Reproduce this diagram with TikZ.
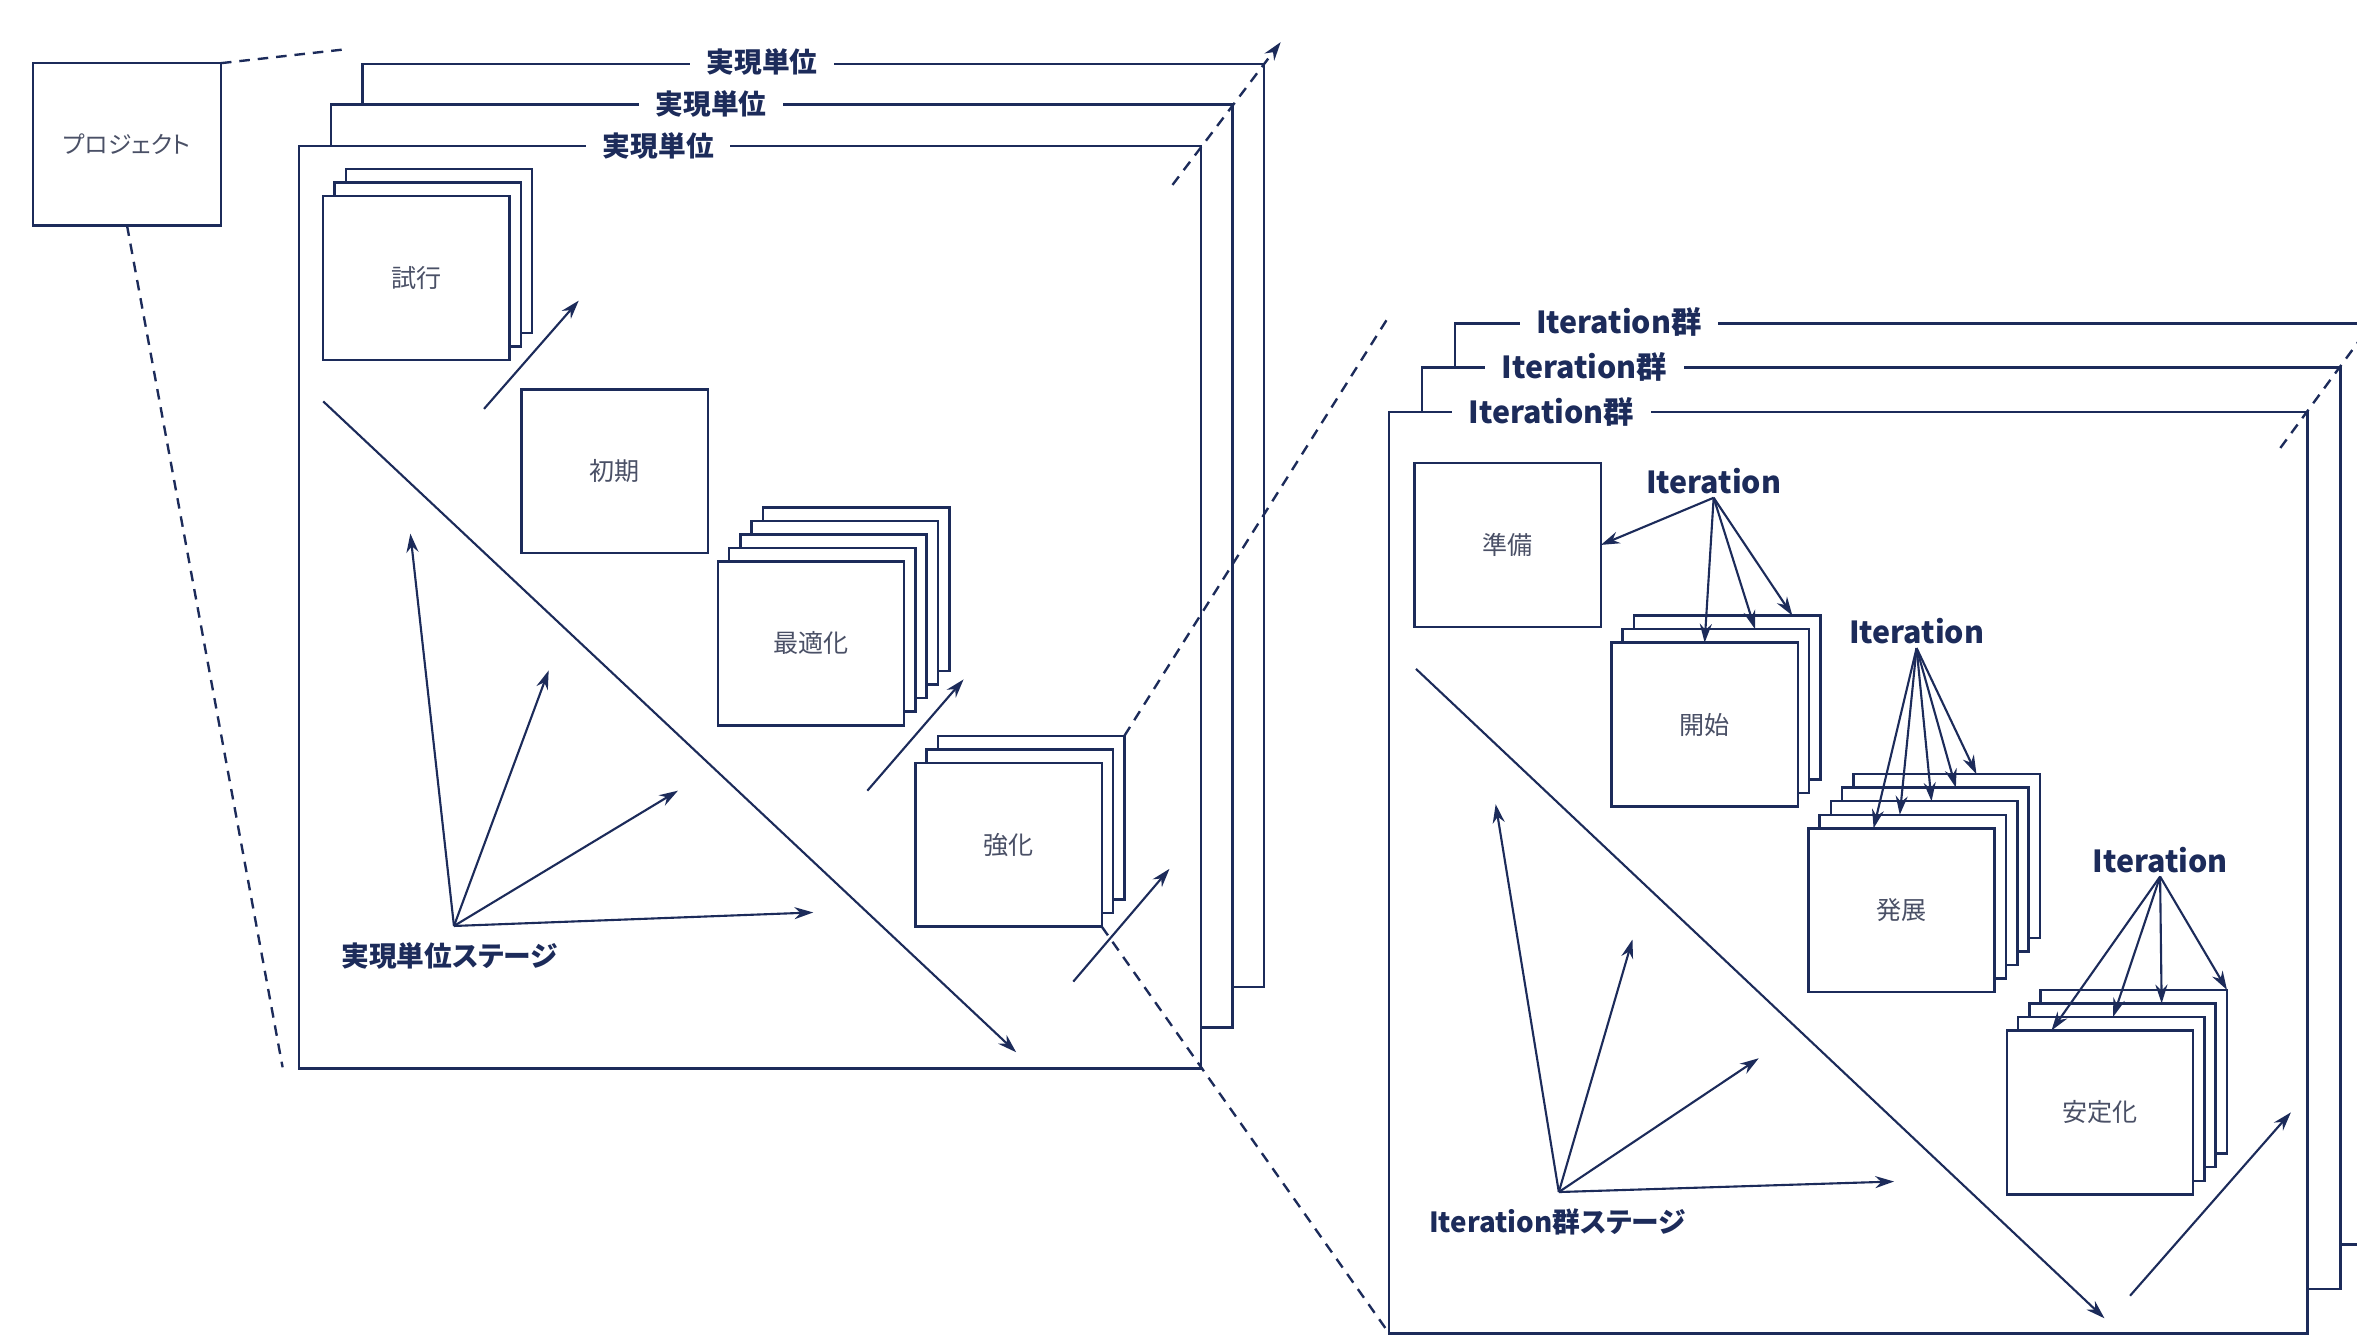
\documentclass[tikz,border=0pt]{standalone}
\usepackage{fontspec}
\setmainfont{Noto Sans CJK JP}[RawFeature=+palt]
\usepackage{xcolor}
\usetikzlibrary{positioning,arrows.meta,calc}

\definecolor{navy}{HTML}{1C2B5A}
\definecolor{boxtext}{HTML}{4A5066}

\begin{document}
\begin{tikzpicture}[
    x=0.02cm, y=-0.02cm,
    navy,
    line width=0.95pt,
    unitframe/.style={rectangle, draw, fill=white, inner sep=0pt, outer sep=0pt, minimum width=12cm, minimum height=12.28cm},
    groupframe/.style={rectangle, draw, fill=white, inner sep=0pt, outer sep=0pt, minimum width=12.22cm, minimum height=12.26cm},
    framelabel/.style={fill=white, inner xsep=0.22cm, inner ysep=1pt, font=\bfseries\fontsize{10.5}{12}\selectfont},
    itfont/.style={font=\bfseries\fontsize{11.5}{13}\selectfont},
    box/.style={rectangle, draw, fill=white, inner sep=0pt, outer sep=0pt, minimum width=2.48cm, minimum height=2.18cm, text=boxtext, font=\fontsize{9.5}{11}\selectfont},
    itlabel/.style={itfont, inner sep=1pt},
    stage/.style={font=\bfseries\fontsize{10.5}{12}\selectfont, inner sep=1pt},
    flow/.style={->, line width=0.8pt},
    zoomline/.style={dash pattern=on 4pt off 3pt, line width=0.9pt},
    >={Stealth[length=2.5mm, width=1.6mm]}
]
\useasboundingbox (0,0) rectangle (1568,889);

% プロジェクト
\node[box, minimum width=2.5cm, minimum height=2.16cm, font=\fontsize{9}{11}\selectfont] (project) at (84.5,96) {プロジェクト};

% Iteration群の枠
\node[groupframe] (groupC) at (1273.5,521.5) {};
\node[framelabel, itfont] (groupCtitle) at (1077,214) {Iteration群};
\node[groupframe] (groupB) at (1251.5,551) {};
\node[framelabel, itfont] (groupBtitle) at (1054,244) {Iteration群};
\node[groupframe] (groupA) at (1229.5,580.5) {};
\node[framelabel, itfont] (groupAtitle) at (1032,274) {Iteration群};

% 実現単位の枠
\node[unitframe] (unitC) at (541,349.5) {};
\node[framelabel] (unitCtitle) at (507,41) {実現単位};
\node[unitframe] (unitB) at (520,376.5) {};
\node[framelabel] (unitBtitle) at (473,69) {実現単位};
\node[unitframe] (unitA) at (499,404) {};
\node[framelabel] (unitAtitle) at (438,97) {実現単位};

% 実現単位の段階
\foreach \k in {2,1}
  \node[box] (shiko\k) at ({277+7.5*\k},{185-9*\k}) {};
\node[box] (shiko0) at (277,185) {試行};
\node[box] (shoki) at (409,313.5) {初期};
\foreach \k in {4,3,2,1}
  \node[box] (saiteki\k) at ({539.5+7.5*\k},{428-9*\k}) {};
\node[box] (saiteki0) at (539.5,428) {最適化};
\foreach \k in {2,1}
  \node[box] (kyoka\k) at ({671+7.5*\k},{562-9*\k}) {};
\node[box] (kyoka0) at (671,562) {強化};

% Iteration群の段階
\node[box] (junbi) at (1003,362.5) {準備};
\foreach \k in {2,1}
  \node[box] (kaishi\k) at ({1134+7.5*\k},{482-9*\k}) {};
\node[box] (kaishi0) at (1134,482) {開始};
\foreach \k in {4,3,2,1}
  \node[box] (hatten\k) at ({1265+7.5*\k},{605.5-9*\k}) {};
\node[box] (hatten0) at (1265,605.5) {発展};
\foreach \k in {3,2,1}
  \node[box] (antei\k) at ({1397+7.5*\k},{740-9*\k}) {};
\node[box] (antei0) at (1397,740) {安定化};

% 段階の進み
\coordinate (stepA1) at (322,272);  \coordinate (stepA2) at (385,200);
\coordinate (stepB1) at (577,526);  \coordinate (stepB2) at (641,452);
\coordinate (stepC1) at (714,653);  \coordinate (stepC2) at (778,578);
\coordinate (stepD1) at (1417,862); \coordinate (stepD2) at (1524,740);
\draw[flow] (stepA1) -- (stepA2);
\draw[flow] (stepB1) -- (stepB2);
\draw[flow] (stepC1) -- (stepC2);
\draw[flow] (stepD1) -- (stepD2);

% 対角線
\coordinate (unitdiag1) at (215,267);  \coordinate (unitdiag2) at (676,700);
\coordinate (groupdiag1) at (942,445); \coordinate (groupdiag2) at (1400,877);
\draw[flow] (unitdiag1) -- (unitdiag2);
\draw[flow] (groupdiag1) -- (groupdiag2);

% ステージ
\node[stage] (unitstagetext) at (299,636) {実現単位ステージ};
\coordinate (unitstage) at (302,616);
\coordinate (unitfan1) at (273,355);
\coordinate (unitfan2) at (365,446);
\coordinate (unitfan3) at (451,526);
\coordinate (unitfan4) at (541,607);
\foreach \i in {1,...,4}
  \draw[flow] (unitstage) -- (unitfan\i);

\node[stage] (groupstagetext) at (1036,813) {Iteration群ステージ};
\coordinate (groupstage) at (1037,793);
\coordinate (groupfan1) at (995,535);
\coordinate (groupfan2) at (1086,625);
\coordinate (groupfan3) at (1170,704);
\coordinate (groupfan4) at (1260,786);
\foreach \i in {1,...,4}
  \draw[flow] (groupstage) -- (groupfan\i);

% Iteration
\node[itlabel] (iter1) at (1140,320) {Iteration};
\node[itlabel] (iter2) at (1275,420) {Iteration};
\node[itlabel] (iter3) at (1437,572) {Iteration};
\draw[flow] (iter1.south) -- (junbi.east);
\foreach \k/\f in {0/0.5,1/0.71,2/0.85}
  \draw[flow] (iter1.south) -- ($(kaishi\k.north west)!\f!(kaishi\k.north east)$);
\foreach \k/\f in {0/0.35,1/0.43,2/0.54,3/0.61,4/0.66}
  \draw[flow] (iter2.south) -- ($(hatten\k.north west)!\f!(hatten\k.north east)$);
\foreach \k/\f in {0/0.24,1/0.51,2/0.71}
  \draw[flow] (iter3.south) -- ($(antei\k.north west)!\f!(antei\k.north east)$);
\draw[flow] (iter3.south) -- (antei3.north east);

% 拡大の点線
\coordinate (projzoom1) at (228,33);
\coordinate (projzoom2) at (188,710);
\draw[zoomline] (project.north east) -- (projzoom1);
\draw[zoomline] (project.south) -- (projzoom2);
\coordinate (unitdepth1) at (780,123);
\coordinate (unitdepth2) at (852,28);
\draw[zoomline, ->] (unitdepth1) -- (unitdepth2);
\coordinate (groupdepth1) at (1517,298);
\coordinate (groupdepth2) at (1600,185);
\draw[zoomline] (groupdepth1) -- (groupdepth2);
\coordinate (kyokazoom) at (923,212);
\draw[zoomline] (kyoka2.north east) -- (kyokazoom);
\draw[zoomline] (kyoka0.south east) -- (groupA.south west);

\end{tikzpicture}
\end{document}
